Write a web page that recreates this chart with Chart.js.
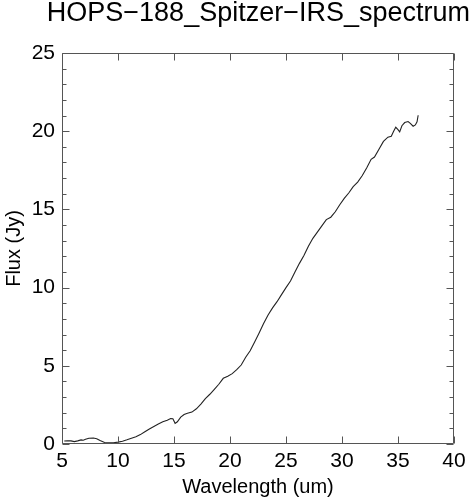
<!DOCTYPE html>
<html>
<head>
<meta charset="utf-8">
<script src="https://cdn.jsdelivr.net/npm/chart.js@4/dist/chart.umd.min.js"></script>
<style>
html,body{margin:0;padding:0;background:#fff;}
#wrap{width:473px;height:500px;}
</style>
</head>
<body>
<div id="wrap"><canvas id="c" width="473" height="500"></canvas></div>
<script>
const titleText = "HOPS\u2212188_Spitzer\u2212IRS_spectrum";
const xLabel = "Wavelength (um)";
const yLabel = "Flux (Jy)";
const xTicks = [5, 10, 15, 20, 25, 30, 35, 40];
const yTicks = [0, 5, 10, 15, 20, 25];

const wavelength = [5.2,5.5,5.8,6.1,6.4,6.7,6.9,7.1,7.4,7.8,8.1,8.4,8.8,9.2,9.6,10.0,10.4,10.8,11.2,11.6,
  12.0,12.4,12.8,13.2,13.6,14.0,14.4,14.7,14.9,15.1,15.3,15.6,15.9,16.2,16.6,17.0,17.4,17.8,18.2,18.6,
  19.0,19.4,19.8,20.2,20.6,21.0,21.4,21.8,22.2,22.6,23.0,23.4,23.8,24.2,24.6,25.0,25.4,25.8,26.2,26.6,
  27.0,27.4,27.8,28.2,28.6,29.0,29.4,29.8,30.2,30.6,31.0,31.4,31.8,32.2,32.6,32.9,33.3,33.7,34.1,34.4,
  34.6,34.8,35.0,35.15,35.35,35.6,35.9,36.1,36.35,36.55,36.7,36.8];
const flux = [0.19,0.21,0.20,0.15,0.20,0.26,0.24,0.30,0.37,0.38,0.34,0.22,0.10,0.07,0.08,0.12,0.18,0.27,0.37,0.46,
  0.60,0.78,0.96,1.12,1.28,1.42,1.52,1.63,1.62,1.32,1.42,1.72,1.88,1.97,2.04,2.25,2.55,2.90,3.18,3.50,
  3.82,4.20,4.33,4.50,4.75,5.05,5.55,5.96,6.52,7.10,7.70,8.25,8.70,9.10,9.55,10.00,10.42,11.00,11.55,12.05,
  12.65,13.15,13.55,13.95,14.35,14.50,14.85,15.30,15.70,16.05,16.45,16.75,17.15,17.65,18.20,18.35,18.85,19.35,19.62,19.68,
  19.98,20.25,20.10,19.96,20.35,20.55,20.62,20.50,20.32,20.40,20.60,21.02];

const points = wavelength.map((w, i) => ({x: w, y: flux[i]}));
const FONT = "'Liberation Sans', Arial, Helvetica, sans-serif";
const AXIS_COLOR = '#555';

const frameTicks = {
  id: 'frameTicks',
  afterDraw(chart) {
    const ctx = chart.ctx;
    const a = chart.chartArea;
    const xs = chart.scales.x, ys = chart.scales.y;
    const L = Math.round(a.left) + 0.5, R = Math.round(a.right) - 0.5;
    const T = Math.round(a.top) + 0.5, B = Math.round(a.bottom) - 0.5;
    ctx.save();
    ctx.strokeStyle = AXIS_COLOR;
    ctx.lineWidth = 1;
    ctx.beginPath();
    ctx.rect(L, T, R - L, B - T);
    ctx.stroke();
    ctx.beginPath();
    xTicks.forEach(v => {
      const px = Math.round(xs.getPixelForValue(v)) + 0.5;
      ctx.moveTo(px, B); ctx.lineTo(px, B - 7);
      ctx.moveTo(px, T); ctx.lineTo(px, T + 7);
    });
    for (let v = ys.min; v <= ys.max; v += 1) {
      const py = Math.round(ys.getPixelForValue(v)) + 0.5;
      const len = (v % 5 === 0) ? 7 : 4;
      ctx.moveTo(L, py); ctx.lineTo(L + len, py);
      ctx.moveTo(R, py); ctx.lineTo(R - len, py);
    }
    ctx.stroke();
    ctx.restore();
  }
};

function zeroPad(scale) {
  scale.paddingLeft = 0; scale.paddingRight = 0;
  scale.paddingTop = 0; scale.paddingBottom = 0;
}

new Chart(document.getElementById('c'), {
  type: 'scatter',
  data: {
    datasets: [{
      data: points,
      showLine: true,
      borderColor: '#222',
      borderWidth: 1.1,
      pointRadius: 0,
      tension: 0,
      fill: false
    }]
  },
  options: {
    responsive: false,
    animation: false,
    devicePixelRatio: 1,
    layout: { padding: { left: 0, right: 3, top: 0, bottom: 0 } },
    plugins: {
      legend: { display: false },
      tooltip: { enabled: false },
      title: {
        display: true,
        text: titleText,
        fullSize: true,
        align: 'end',
        color: '#000',
        font: { family: FONT, size: 27, weight: 'normal', lineHeight: 1 },
        padding: { top: 0.5, bottom: 25.5 }
      }
    },
    scales: {
      x: {
        type: 'linear',
        min: 5, max: 40,
        afterBuildTicks: s => { s.ticks = xTicks.map(v => ({value: v})); },
        afterFit: s => { s.height = 56; zeroPad(s); },
        grid: { display: false, drawTicks: false },
        border: { display: false },
        ticks: {
          padding: 5,
          color: '#000',
          maxRotation: 0,
          autoSkip: false,
          font: { family: FONT, size: 21, lineHeight: 1.2 }
        },
        title: {
          display: true,
          text: xLabel,
          color: '#000',
          font: { family: FONT, size: 20, lineHeight: 1.2 },
          padding: { top: 0, bottom: 1 }
        }
      },
      y: {
        type: 'linear',
        min: 0, max: 25,
        afterBuildTicks: s => { s.ticks = yTicks.map(v => ({value: v})); },
        afterFit: s => { s.width = 62; zeroPad(s); },
        grid: { display: false, drawTicks: false },
        border: { display: false },
        ticks: {
          padding: 7,
          color: '#000',
          autoSkip: false,
          font: { family: FONT, size: 21, lineHeight: 1.2 }
        },
        title: {
          display: true,
          text: yLabel,
          color: '#000',
          font: { family: FONT, size: 20, lineHeight: 1.2 },
          padding: { top: 2, bottom: 0 }
        }
      },
      yRight: {
        type: 'linear',
        position: 'right',
        display: true,
        min: 0, max: 25,
        afterFit: s => { s.width = 16; zeroPad(s); },
        grid: { display: false, drawTicks: false },
        border: { display: false },
        ticks: { display: false },
        title: { display: false }
      }
    }
  },
  plugins: [frameTicks]
});
</script>
</body>
</html>
